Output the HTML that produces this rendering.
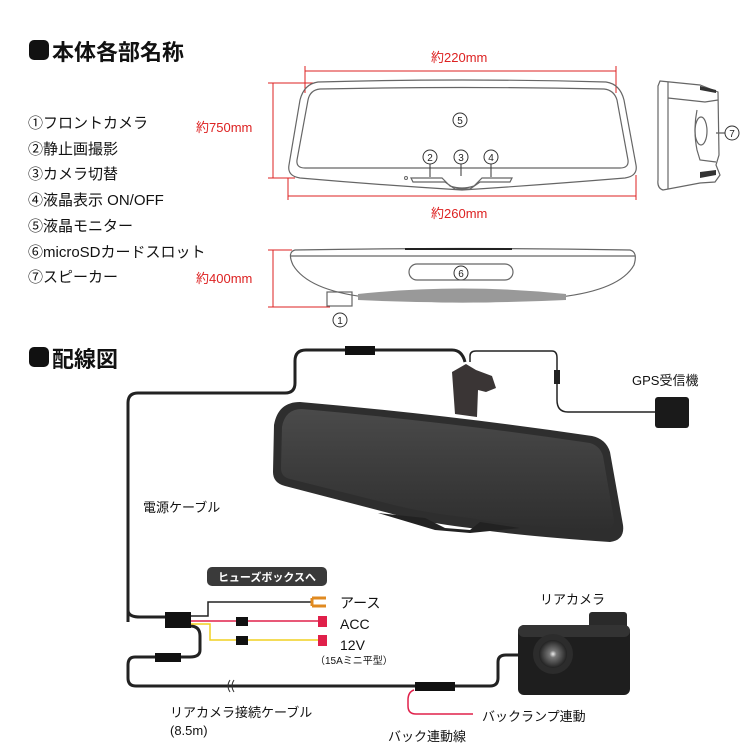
<!DOCTYPE html>
<html><head><meta charset="utf-8"><style>
body{margin:0;background:#fff;width:750px;height:750px;overflow:hidden}
svg text{font-family:"Liberation Sans","Noto Sans CJK JP",sans-serif}
</style></head><body>
<svg width="750" height="750" viewBox="0 0 750 750" xmlns="http://www.w3.org/2000/svg">
<defs>
<linearGradient id="scr" x1="0" y1="0" x2="0" y2="1"><stop offset="0" stop-color="#4a4a4a"/><stop offset="1" stop-color="#2e2e2e"/></linearGradient>
<radialGradient id="lens" cx="0.5" cy="0.5" r="0.5"><stop offset="0" stop-color="#eee"/><stop offset="0.25" stop-color="#777"/><stop offset="1" stop-color="#222"/></radialGradient>
</defs>
<rect x="29" y="40" width="20" height="20" rx="5" fill="#111"/>
<text x="52" y="60" font-size="22" font-weight="bold" fill="#111">本体各部名称</text>
<rect x="29" y="347" width="20" height="20" rx="5" fill="#111"/>
<text x="52" y="367" font-size="22" font-weight="bold" fill="#111">配線図</text>
<g font-size="15" fill="#111">
<text x="28" y="128">①フロントカメラ</text>
<text x="28" y="154">②静止画撮影</text>
<text x="28" y="179">③カメラ切替</text>
<text x="28" y="205">④液晶表示 ON/OFF</text>
<text x="28" y="231">⑤液晶モニター</text>
<text x="28" y="257">⑥microSDカードスロット</text>
<text x="28" y="282">⑦スピーカー</text>
</g>
<g stroke="#d22" stroke-width="1" fill="none">
<line x1="305" y1="71" x2="616" y2="71"/><line x1="305" y1="66" x2="305" y2="93"/><line x1="616" y1="66" x2="616" y2="93"/>
<line x1="273" y1="83" x2="273" y2="178"/><line x1="268" y1="83" x2="315" y2="83"/><line x1="268" y1="178" x2="295" y2="178"/>
<line x1="288" y1="196" x2="636" y2="196"/><line x1="288" y1="178" x2="288" y2="200"/><line x1="636" y1="175" x2="636" y2="200"/>
<line x1="273" y1="250" x2="273" y2="307"/><line x1="268" y1="250" x2="292" y2="250"/><line x1="268" y1="307" x2="330" y2="307"/>
</g>
<g font-size="13" fill="#d22">
<text x="431" y="62">約220mm</text>
<text x="196" y="132">約750mm</text>
<text x="431" y="218">約260mm</text>
<text x="196" y="283">約400mm</text>
</g>
<g stroke="#666" fill="none" stroke-width="1.2">
<path d="M318 82 Q462 78 606 82 Q620 84 624 100 L636 165 Q638 176 625 178 Q540 185 462 190 Q380 185 300 178 Q287 176 289 165 L300 100 Q304 84 318 82Z"/>
<path d="M320 89 Q462 86 604 89 Q614 90 617 100 L628 160 Q629 168 620 168 L305 168 Q296 168 297 160 L308 100 Q310 90 320 89Z"/>
<path d="M411 178 L442 178 L450 186 Q462 190 474 186 L482 178 L512 178 L510 182 L480 182 L470 189 L455 189 L445 182 L413 182Z"/>
</g>
<circle cx="406" cy="178" r="1.5" fill="none" stroke="#666"/>
<g fill="#222" text-anchor="middle">
<circle cx="460" cy="120" r="7" fill="none" stroke="#333"/><text x="460" y="124" font-size="10">5</text>
<circle cx="430" cy="157" r="7" fill="none" stroke="#333"/><text x="430" y="161" font-size="10">2</text>
<circle cx="461" cy="157" r="7" fill="none" stroke="#333"/><text x="461" y="161" font-size="10">3</text>
<circle cx="491" cy="157" r="7" fill="none" stroke="#333"/><text x="491" y="161" font-size="10">4</text>
<circle cx="732" cy="133" r="7" fill="none" stroke="#333"/><text x="732" y="137" font-size="10">7</text>
<circle cx="461" cy="273" r="7" fill="none" stroke="#333"/><text x="461" y="277" font-size="10">6</text>
<circle cx="340" cy="320" r="7" fill="none" stroke="#333"/><text x="340" y="324" font-size="10">1</text>
</g>
<g stroke="#333" stroke-width="1"><line x1="430" y1="164" x2="430" y2="177"/><line x1="461" y1="164" x2="461" y2="176"/><line x1="491" y1="164" x2="491" y2="177"/><line x1="716" y1="133" x2="725" y2="133"/></g>
<g stroke="#666" fill="none" stroke-width="1.2">
<path d="M660 81 L700 85 L718 92 L719 155 L716 165 L720 175 L715 182 L700 183 L663 190 Q657 188 658 180 L658 86Z"/>
<line x1="668" y1="82" x2="668" y2="189"/>
<path d="M668 98 L705 102 L718 100"/>
<path d="M697 110 Q693 130 697 150 L700 160 L716 162"/>
<ellipse cx="701" cy="131" rx="6" ry="14"/>
</g>
<path d="M700 86 L716 90 L716 93 L700 90Z M700 172 L716 170 L716 175 L700 178Z" fill="#333"/>
<g stroke="#666" fill="none" stroke-width="1.2">
<path d="M295 250 Q462 247 630 250 Q638 252 634 265 Q620 290 560 297 Q462 307 365 297 Q308 290 293 265 Q287 252 295 250Z"/>
<line x1="290" y1="256" x2="635" y2="256"/>
<rect x="409" y="264" width="104" height="16" rx="8"/>
<rect x="327" y="292" width="25" height="14"/>
</g>
<path d="M358 294 Q462 283 566 294 L566 300 Q462 305 358 300Z" fill="#999"/>
<line x1="405" y1="249" x2="512" y2="249" stroke="#222" stroke-width="2"/>
<g fill="none" stroke="#222" stroke-width="3">
<path d="M128 622 L128 403 Q128 393 138 393 L285 393 Q295 393 295 383 L295 361 Q295 350 306 350 L452 350 Q462 350 465 362"/>
<path d="M128 610 Q128 617 140 617 L166 617"/>
<path d="M190 626 Q200 626 200 636 L200 650 Q200 657 190 657 L135 657 Q128 657 128 665 L128 678 Q128 686 136 686 L490 686 Q498 686 498 678 L498 662 Q498 655 506 655 L520 655"/>
</g>
<rect x="345" y="346" width="30" height="9" fill="#111"/>
<path d="M470 362 L470 356 Q470 351 476 351 L552 351 Q557 351 557 358 L557 400 Q557 412 568 412 L655 412" fill="none" stroke="#222" stroke-width="1.5"/>
<rect x="554" y="370" width="6" height="14" fill="#222"/>
<rect x="655" y="397" width="34" height="31" rx="3" fill="#1a1a1a"/>
<text x="632" y="385" font-size="13" fill="#111">GPS受信機</text>
<!-- mirror photo -->
<path d="M452 372 L466 364 L476 370 L492 376 L496 388 L486 392 L478 390 L477 417 L455 414Z" fill="#3a3535"/>
<path d="M300 402 Q450 415 592 436 Q606 439 610 452 L623 525 Q625 540 610 542 Q510 535 470 528 Q420 522 385 512 L285 486 Q273 483 273 472 L274 425 Q278 402 300 402Z" fill="#2e2e2e"/>
<path d="M302 409 Q450 422 590 443 Q600 446 603 456 L614 520 Q614 530 602 531 Q500 524 470 518 Q420 512 390 504 L290 479 Q281 477 281 468 L282 427 Q285 409 302 409Z" fill="url(#scr)"/>
<path d="M378 513 L425 518 L445 528 L470 530 L480 522 L520 528 L470 533 L435 530 Z" fill="#222"/>
<text x="143" y="512" font-size="13" fill="#111">電源ケーブル</text>
<rect x="207" y="567" width="120" height="19" rx="5" fill="#3a3a3a"/>
<text x="267" y="581" font-size="11" font-weight="bold" fill="#fff" text-anchor="middle">ヒューズボックスへ</text>
<rect x="165" y="612" width="26" height="16" fill="#111"/>
<path d="M191 616 L208 616 L208 602 L312 602" fill="none" stroke="#222" stroke-width="1.5"/>
<path d="M312 598 L326 598 M312 606 L326 606 M312 598 L312 606" stroke="#e08a20" stroke-width="3" fill="none"/>
<path d="M191 621 L318 621" stroke="#e0204a" stroke-width="1.5"/>
<path d="M191 624 L210 624 L210 640 L318 640" fill="none" stroke="#f0d020" stroke-width="1.5"/>
<rect x="236" y="617" width="12" height="9" fill="#111"/>
<rect x="236" y="636" width="12" height="9" fill="#111"/>
<rect x="318" y="616" width="9" height="11" fill="#e0204a"/>
<rect x="318" y="635" width="9" height="11" fill="#e0204a"/>
<g font-size="14" fill="#111">
<text x="340" y="608">アース</text>
<text x="340" y="629">ACC</text>
<text x="340" y="650">12V</text>
</g>
<text x="315" y="664" font-size="10" fill="#111">（15Aミニ平型）</text>
<rect x="155" y="653" width="26" height="9" fill="#111"/>
<path d="M230 680 Q226 686 230 692 M234 680 Q230 686 234 692" stroke="#333" fill="none" stroke-width="1"/>
<rect x="415" y="682" width="40" height="9" fill="#111"/>
<path d="M414 690 Q408 692 408 700 L408 706 Q408 714 416 714 L473 714" fill="none" stroke="#e0204a" stroke-width="1.5"/>
<text x="170" y="717" font-size="13" fill="#111">リアカメラ接続ケーブル</text>
<text x="170" y="735" font-size="13" fill="#111">(8.5m)</text>
<text x="482" y="721" font-size="13" fill="#111">バックランプ連動</text>
<text x="388" y="741" font-size="13" fill="#111">バック連動線</text>
<text x="540" y="604" font-size="13" fill="#111">リアカメラ</text>
<rect x="589" y="612" width="38" height="25" rx="3" fill="#2a2a2a"/>
<rect x="518" y="625" width="112" height="70" rx="6" fill="#1e1e1e"/>
<rect x="518" y="625" width="112" height="12" rx="6" fill="#333"/>
<circle cx="553" cy="654" r="20" fill="#2c2c2c"/>
<circle cx="553" cy="654" r="14" fill="url(#lens)"/>
</svg>
</body></html>
